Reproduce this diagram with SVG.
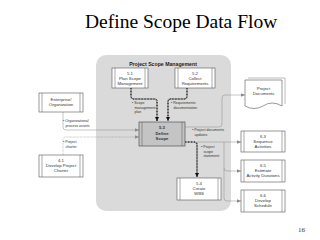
<svg xmlns="http://www.w3.org/2000/svg" width="320" height="240" viewBox="0 0 320 240">
<defs>
<style>
.title{font-family:"Liberation Serif",serif;font-size:19.5px;fill:#000}
.box{fill:#fff;stroke:#555;stroke-width:0.6}
.bl{stroke:#555;stroke-width:0.5;fill:none}
.bt{font-family:"Liberation Sans",Arial,sans-serif;font-size:4.3px;fill:#333;text-anchor:middle}
.lb{font-family:"Liberation Sans",Arial,sans-serif;font-size:3.6px;fill:#333}
.gl{fill:none;stroke:#8a8a8a;stroke-width:0.5}
.dl{fill:none;stroke:#222;stroke-width:1.4;stroke-dasharray:0.9 0.6}
</style>
<marker id="ag" viewBox="0 0 6 6" refX="6" refY="3" markerWidth="4" markerHeight="4" orient="auto" markerUnits="userSpaceOnUse"><path d="M0,0.5 L6,3 L0,5.5 Z" fill="#8a8a8a"/></marker>
<marker id="ad" viewBox="0 0 6 6" refX="6" refY="3" markerWidth="4.5" markerHeight="4.5" orient="auto" markerUnits="userSpaceOnUse"><path d="M0,0 L6,3 L0,6 Z" fill="#111"/></marker>
</defs>
<rect width="320" height="240" fill="#fff"/>
<text class="title" x="85" y="28">Define Scope Data Flow</text>
<rect x="96" y="55" width="135" height="156" rx="10" fill="#dadada"/>
<text x="163" y="65.5" font-family="Liberation Sans,Arial,sans-serif" font-size="5.2" font-weight="bold" fill="#222" text-anchor="middle">Project Scope Management</text>

<g id="connectors">
<path class="gl" d="M63,112 V127 Q63,130 66,130 H139" marker-end="url(#ag)"/>
<path class="gl" d="M63,155 V140 Q63,137 66,137 H139" stroke-dasharray="0.8 0.6" marker-end="url(#ag)"/>
<path class="dl" d="M131,88 V96 Q131,99 134,99 H154 Q157,99 157,102 V121" marker-end="url(#ad)"/>
<path class="dl" d="M187,88 V96 Q187,99 184,99 H171 Q168,99 168,102 V121" marker-end="url(#ad)"/>
<path class="gl" d="M185,127 H219 Q222,127 222,124 V98 Q222,95 225,95 H245" marker-end="url(#ag)"/>
<path class="dl" d="M185,142 H194 Q197,142 197,145 V177" marker-end="url(#ad)"/>
<path class="gl" d="M197,142 H241" marker-end="url(#ag)"/>
<path class="gl" d="M224,142 V198 Q224,201 227,201 H241" marker-end="url(#ag)"/>
<path class="gl" d="M224,168 Q224,171 227,171 H241" marker-end="url(#ag)"/>
<text class="lb" x="132" y="104">• Scope<tspan x="134.5" dy="4.5">management</tspan><tspan x="134.5" dy="4.5">plan</tspan></text>
<text class="lb" x="171" y="104">• Requirements<tspan x="173.5" dy="4.5">documentation</tspan></text>
<text class="lb" x="63" y="122">• Organizational<tspan x="65.5" dy="4.5">process assets</tspan></text>
<text class="lb" x="63" y="143">• Project<tspan x="65.5" dy="4.5">charter</tspan></text>
<text class="lb" x="192" y="131">• Project documents<tspan x="194.5" dy="4.5">updates</tspan></text>
<text class="lb" x="201" y="148">• Project<tspan x="203.5" dy="4.5">scope</tspan><tspan x="203.5" dy="4.5">statement</tspan></text>
</g>

<g id="n51">
<rect class="box" x="112" y="68" width="36" height="20"/>
<path class="bl" d="M115,68 V88 M145,68 V88"/>
<text class="bt" x="130" y="74.5">5.1<tspan x="130" dy="5">Plan Scope</tspan><tspan x="130" dy="5">Management</tspan></text>
</g>
<g id="n52">
<rect class="box" x="175" y="68" width="40" height="20"/>
<path class="bl" d="M178,68 V88 M212,68 V88"/>
<text class="bt" x="195" y="74.5">5.2<tspan x="195" dy="5">Collect</tspan><tspan x="195" dy="5">Requirements</tspan></text>
</g>
<g id="n53">
<rect x="139" y="122" width="46" height="24" fill="#c4c4c4" stroke="#555" stroke-width="0.7"/>
<path class="bl" d="M142,122 V146 M182,122 V146"/>
<text class="bt" x="162" y="129" font-weight="bold">5.3<tspan x="162" dy="5.5">Define</tspan><tspan x="162" dy="5.5">Scope</tspan></text>
</g>
<g id="n54">
<rect class="box" x="177" y="178" width="44" height="22"/>
<path class="bl" d="M180,178 V200 M218,178 V200"/>
<text class="bt" x="199" y="185">5.4<tspan x="199" dy="5.2">Create</tspan><tspan x="199" dy="5.2">WBS</tspan></text>
</g>
<g id="enterprise">
<rect class="box" x="39" y="93" width="44" height="19"/>
<path class="bl" d="M42,93 V112 M80,93 V112"/>
<text class="bt" x="61" y="101">Enterprise/<tspan x="61" dy="5">Organization</tspan></text>
</g>
<g id="n41">
<rect class="box" x="39" y="155" width="44" height="22"/>
<path class="bl" d="M42,155 V177 M80,155 V177"/>
<text class="bt" x="61" y="162">4.1<tspan x="61" dy="5.2">Develop Project</tspan><tspan x="61" dy="5.2">Charter</tspan></text>
</g>
<g id="projdocs">
<path d="M248,78 H285 V104" fill="none" stroke="#777" stroke-width="0.5"/>
<path d="M245,80 H282 V106 Q272,100 263,106 Q254,111 245,106 Z" fill="#fff" stroke="#555" stroke-width="0.6"/>
<text class="bt" x="263.5" y="90">Project<tspan x="263.5" dy="5">Documents</tspan></text>
</g>
<g id="n63">
<rect class="box" x="241" y="131" width="44" height="21"/>
<path class="bl" d="M244,131 V152 M282,131 V152"/>
<text class="bt" x="263" y="137.5">6.3<tspan x="263" dy="5">Sequence</tspan><tspan x="263" dy="5">Activities</tspan></text>
</g>
<g id="n65">
<rect class="box" x="241" y="160" width="44" height="22"/>
<path class="bl" d="M244,160 V182 M282,160 V182"/>
<text class="bt" x="263" y="167">6.5<tspan x="263" dy="5">Estimate</tspan><tspan x="263" dy="5">Activity Durations</tspan></text>
</g>
<g id="n66">
<rect class="box" x="241" y="190" width="44" height="22"/>
<path class="bl" d="M244,190 V212 M282,190 V212"/>
<text class="bt" x="263" y="197">6.6<tspan x="263" dy="5">Develop</tspan><tspan x="263" dy="5">Schedule</tspan></text>
</g>
<text x="298" y="232" font-family="Liberation Serif,serif" font-size="7" fill="#333">16</text>
</svg>
